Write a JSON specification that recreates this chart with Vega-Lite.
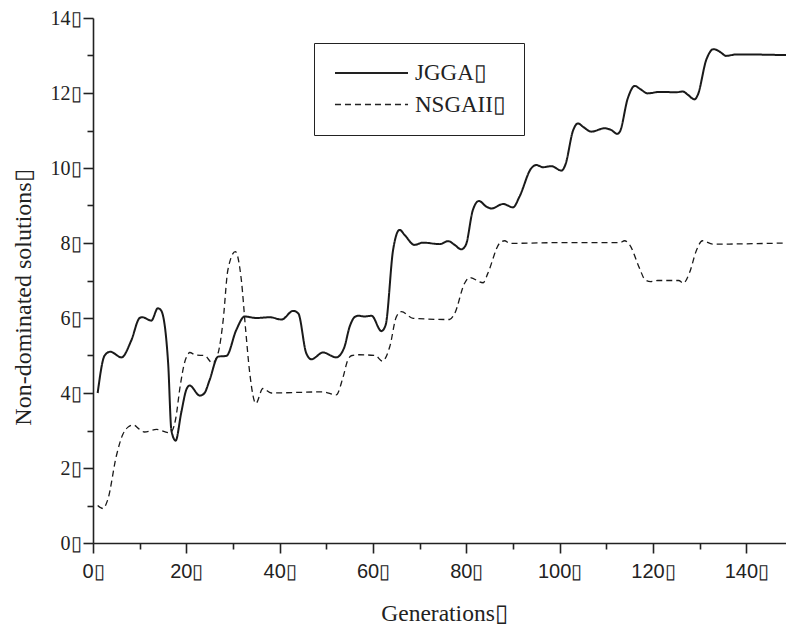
{
  "$schema": "https://vega.github.io/schema/vega-lite/v6.json",
  "width": 693,
  "height": 525,
  "autosize": {"type": "none"},
  "padding": {"left": 93, "top": 18, "right": 0, "bottom": 84},
  "background": "white",
  "config": {
    "view": {"stroke": null},
    "axis": {"grid": false, "domainColor": "#222", "tickColor": "#222", "domainWidth": 1.6, "tickWidth": 1.6, "labelColor": "#222", "titleColor": "#222", "titleFontWeight": "normal", "labelFlush": false, "labelOverlap": false}
  },
  "data": {"values": [
    {"g":1,"v":4.0,"s":"JGGA"},{"g":2.5,"v":5.0,"s":"JGGA"},{"g":3.7,"v":5.1,"s":"JGGA"},{"g":6.1,"v":4.95,"s":"JGGA"},{"g":8.2,"v":5.4,"s":"JGGA"},{"g":10,"v":6.0,"s":"JGGA"},{"g":10.6,"v":6.02,"s":"JGGA"},{"g":12.5,"v":5.93,"s":"JGGA"},{"g":13.9,"v":6.26,"s":"JGGA"},{"g":14.6,"v":6.2,"s":"JGGA"},{"g":16.1,"v":4.8,"s":"JGGA"},{"g":16.8,"v":3.0,"s":"JGGA"},{"g":17.7,"v":2.73,"s":"JGGA"},{"g":18.9,"v":3.47,"s":"JGGA"},{"g":20,"v":4.09,"s":"JGGA"},{"g":20.7,"v":4.2,"s":"JGGA"},{"g":22.9,"v":3.93,"s":"JGGA"},{"g":23.9,"v":4.0,"s":"JGGA"},{"g":25,"v":4.35,"s":"JGGA"},{"g":26.8,"v":4.97,"s":"JGGA"},{"g":28.6,"v":4.99,"s":"JGGA"},{"g":30.7,"v":5.68,"s":"JGGA"},{"g":32.5,"v":6.04,"s":"JGGA"},{"g":35,"v":6.0,"s":"JGGA"},{"g":37.9,"v":6.02,"s":"JGGA"},{"g":40.4,"v":5.96,"s":"JGGA"},{"g":42.9,"v":6.19,"s":"JGGA"},{"g":44,"v":6.12,"s":"JGGA"},{"g":45.7,"v":5.06,"s":"JGGA"},{"g":46.8,"v":4.9,"s":"JGGA"},{"g":49.3,"v":5.08,"s":"JGGA"},{"g":52.1,"v":4.95,"s":"JGGA"},{"g":53.8,"v":5.2,"s":"JGGA"},{"g":55,"v":5.77,"s":"JGGA"},{"g":56.1,"v":6.03,"s":"JGGA"},{"g":56.8,"v":6.06,"s":"JGGA"},{"g":58.2,"v":6.04,"s":"JGGA"},{"g":59.7,"v":6.06,"s":"JGGA"},{"g":61.8,"v":5.65,"s":"JGGA"},{"g":62.7,"v":5.81,"s":"JGGA"},{"g":64.3,"v":7.81,"s":"JGGA"},{"g":65.7,"v":8.35,"s":"JGGA"},{"g":66.8,"v":8.21,"s":"JGGA"},{"g":68.9,"v":7.95,"s":"JGGA"},{"g":70.7,"v":8.01,"s":"JGGA"},{"g":74.3,"v":7.97,"s":"JGGA"},{"g":76.1,"v":8.05,"s":"JGGA"},{"g":77.5,"v":7.95,"s":"JGGA"},{"g":78.9,"v":7.83,"s":"JGGA"},{"g":79.9,"v":7.95,"s":"JGGA"},{"g":81.4,"v":8.88,"s":"JGGA"},{"g":82.7,"v":9.12,"s":"JGGA"},{"g":84.3,"v":8.97,"s":"JGGA"},{"g":85.4,"v":8.92,"s":"JGGA"},{"g":87.9,"v":9.04,"s":"JGGA"},{"g":90,"v":8.95,"s":"JGGA"},{"g":91.4,"v":9.24,"s":"JGGA"},{"g":93.9,"v":9.99,"s":"JGGA"},{"g":95,"v":10.08,"s":"JGGA"},{"g":96.4,"v":10.02,"s":"JGGA"},{"g":98.2,"v":10.05,"s":"JGGA"},{"g":100.4,"v":9.93,"s":"JGGA"},{"g":101.2,"v":10.08,"s":"JGGA"},{"g":102.9,"v":11.01,"s":"JGGA"},{"g":103.9,"v":11.19,"s":"JGGA"},{"g":105,"v":11.1,"s":"JGGA"},{"g":106.8,"v":10.97,"s":"JGGA"},{"g":109.6,"v":11.06,"s":"JGGA"},{"g":111.1,"v":11.01,"s":"JGGA"},{"g":112.3,"v":10.91,"s":"JGGA"},{"g":112.9,"v":10.97,"s":"JGGA"},{"g":114.6,"v":11.86,"s":"JGGA"},{"g":116.1,"v":12.19,"s":"JGGA"},{"g":117.1,"v":12.12,"s":"JGGA"},{"g":118.9,"v":11.99,"s":"JGGA"},{"g":121.4,"v":12.03,"s":"JGGA"},{"g":125,"v":12.02,"s":"JGGA"},{"g":126.4,"v":12.04,"s":"JGGA"},{"g":127.5,"v":11.95,"s":"JGGA"},{"g":128.9,"v":11.83,"s":"JGGA"},{"g":129.6,"v":11.95,"s":"JGGA"},{"g":131.4,"v":12.88,"s":"JGGA"},{"g":133,"v":13.17,"s":"JGGA"},{"g":134.3,"v":13.1,"s":"JGGA"},{"g":135.7,"v":12.99,"s":"JGGA"},{"g":137.9,"v":13.03,"s":"JGGA"},{"g":148.5,"v":13.01,"s":"JGGA"},
    {"g":1,"v":1.0,"s":"NSGAII"},{"g":2.1,"v":0.92,"s":"NSGAII"},{"g":3.2,"v":1.17,"s":"NSGAII"},{"g":5,"v":2.32,"s":"NSGAII"},{"g":6.4,"v":2.9,"s":"NSGAII"},{"g":7.5,"v":3.09,"s":"NSGAII"},{"g":8.6,"v":3.15,"s":"NSGAII"},{"g":10,"v":3.03,"s":"NSGAII"},{"g":11,"v":2.96,"s":"NSGAII"},{"g":13.6,"v":3.03,"s":"NSGAII"},{"g":16.4,"v":2.94,"s":"NSGAII"},{"g":17,"v":3.0,"s":"NSGAII"},{"g":17.7,"v":3.3,"s":"NSGAII"},{"g":18.7,"v":4.2,"s":"NSGAII"},{"g":19.6,"v":4.8,"s":"NSGAII"},{"g":20.4,"v":5.04,"s":"NSGAII"},{"g":20.7,"v":5.08,"s":"NSGAII"},{"g":22.1,"v":5.01,"s":"NSGAII"},{"g":23.9,"v":5.0,"s":"NSGAII"},{"g":25.6,"v":4.8,"s":"NSGAII"},{"g":26.8,"v":5.06,"s":"NSGAII"},{"g":27.9,"v":5.95,"s":"NSGAII"},{"g":28.9,"v":7.28,"s":"NSGAII"},{"g":30.5,"v":7.77,"s":"NSGAII"},{"g":31.8,"v":7.0,"s":"NSGAII"},{"g":32.7,"v":5.7,"s":"NSGAII"},{"g":33.6,"v":4.52,"s":"NSGAII"},{"g":34.9,"v":3.72,"s":"NSGAII"},{"g":36.4,"v":4.12,"s":"NSGAII"},{"g":38.2,"v":4.0,"s":"NSGAII"},{"g":49.3,"v":4.03,"s":"NSGAII"},{"g":52.1,"v":3.95,"s":"NSGAII"},{"g":53.6,"v":4.43,"s":"NSGAII"},{"g":54.6,"v":4.88,"s":"NSGAII"},{"g":55.5,"v":5.0,"s":"NSGAII"},{"g":57,"v":5.02,"s":"NSGAII"},{"g":60.5,"v":5.0,"s":"NSGAII"},{"g":62,"v":4.85,"s":"NSGAII"},{"g":63.6,"v":5.24,"s":"NSGAII"},{"g":65,"v":6.03,"s":"NSGAII"},{"g":66.1,"v":6.17,"s":"NSGAII"},{"g":68.6,"v":5.99,"s":"NSGAII"},{"g":76.4,"v":5.96,"s":"NSGAII"},{"g":77.5,"v":6.12,"s":"NSGAII"},{"g":79.6,"v":6.92,"s":"NSGAII"},{"g":80.7,"v":7.08,"s":"NSGAII"},{"g":83.6,"v":6.94,"s":"NSGAII"},{"g":84.6,"v":7.19,"s":"NSGAII"},{"g":87.1,"v":7.99,"s":"NSGAII"},{"g":88.2,"v":8.06,"s":"NSGAII"},{"g":89.3,"v":7.99,"s":"NSGAII"},{"g":100,"v":8.01,"s":"NSGAII"},{"g":112.9,"v":8.01,"s":"NSGAII"},{"g":113.9,"v":8.06,"s":"NSGAII"},{"g":115,"v":7.95,"s":"NSGAII"},{"g":117.1,"v":7.33,"s":"NSGAII"},{"g":118.3,"v":7.02,"s":"NSGAII"},{"g":119.5,"v":6.97,"s":"NSGAII"},{"g":121,"v":7.0,"s":"NSGAII"},{"g":125.5,"v":7.0,"s":"NSGAII"},{"g":126.5,"v":6.93,"s":"NSGAII"},{"g":127.8,"v":7.2,"s":"NSGAII"},{"g":129.3,"v":7.8,"s":"NSGAII"},{"g":130.6,"v":8.06,"s":"NSGAII"},{"g":132.8,"v":7.97,"s":"NSGAII"},{"g":148.5,"v":8.0,"s":"NSGAII"}
  ]},
  "mark": {"type": "line", "interpolate": "monotone", "color": "#1a1a1a"},
  "encoding": {
    "x": {
      "field": "g", "type": "quantitative",
      "scale": {"domain": [0, 148.5], "nice": false, "zero": false},
      "axis": {
        "values": [0,10,20,30,40,50,60,70,80,90,100,110,120,130,140],
        "labelExpr": "datum.value % 20 === 0 ? datum.label + '▯' : ''",
        "tickSize": {"condition": {"test": "datum.value % 20 === 0", "value": 10}, "value": 6},
        "labelFont": "Liberation Sans", "labelFontSize": 20, "labelPadding": 8,
        "title": "Generations▯", "titleFont": "Liberation Serif", "titleFontSize": 23.5,
        "titleX": 351, "titleY": 77, "titleBaseline": "alphabetic"
      }
    },
    "y": {
      "field": "v", "type": "quantitative",
      "scale": {"domain": [0, 14], "nice": false},
      "axis": {
        "values": [0,1,2,3,4,5,6,7,8,9,10,11,12,13,14],
        "labelExpr": "datum.value % 2 === 0 ? datum.label + '▯' : ''",
        "tickSize": {"condition": {"test": "datum.value % 2 === 0", "value": 10}, "value": 6},
        "labelFont": "Liberation Serif", "labelFontSize": 20, "labelPadding": 2,
        "title": "Non-dominated solutions▯", "titleFont": "Liberation Serif", "titleFontSize": 24,
        "titleX": -70, "titleY": 279, "titleBaseline": "middle"
      }
    },
    "strokeDash": {
      "field": "s", "type": "nominal",
      "scale": {"domain": ["JGGA", "NSGAII"], "range": [[1, 0], [6, 4]]},
      "legend": {
        "title": null, "orient": "none", "legendX": 221, "legendY": 25,
        "strokeColor": "#222", "padding": 18,
        "symbolType": "M-3.32,0H3.32", "symbolSize": 484, "symbolStrokeColor": "#222", "symbolStrokeWidth": 1.6,
        "symbolOffset": 27.5, "labelFont": "Liberation Serif", "labelFontSize": 23, "labelColor": "#222",
        "labelOffset": 31.5, "rowPadding": 7.5, "labelExpr": "datum.label + '▯\u00a0\u00a0\u00a0\u00a0\u00a0'"
      }
    },
    "strokeWidth": {
      "field": "s", "type": "nominal",
      "scale": {"domain": ["JGGA", "NSGAII"], "range": [2, 1.3]},
      "legend": null
    }
  }
}
